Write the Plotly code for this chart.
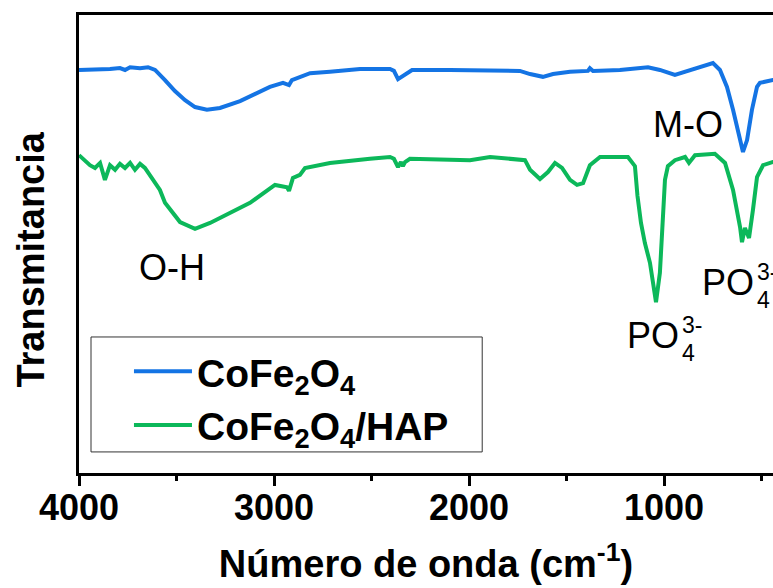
import plotly.graph_objects as go

# ---- data (wavenumber in cm^-1, transmittance in arbitrary units) ----
wn_cofe = [4000, 3918, 3841, 3790, 3764, 3738, 3687, 3646, 3610, 3559, 3508, 3456,
           3405, 3344, 3277, 3174, 3072, 3021, 2954, 2933, 2923, 2908, 2867, 2815,
           2713, 2559, 2405, 2385, 2364, 2339, 2292, 2098, 1892, 1739, 1687, 1621,
           1569, 1482, 1390, 1380, 1364, 1226, 1082, 1021, 944, 867, 790, 749,
           713, 677, 646, 610, 595, 574, 549, 523, 508, 441, 400]
t_cofe = [88.0, 88.0, 88.2, 88.4, 88.0, 88.6, 88.4, 88.6, 88.0, 85.8, 83.4, 81.4,
          79.9, 79.3, 79.7, 81.2, 83.2, 84.3, 85.2, 85.0, 84.7, 85.8, 86.5, 87.3,
          87.6, 88.2, 88.2, 87.8, 86.0, 86.7, 88.0, 88.0, 88.0, 87.8, 87.1, 86.5,
          87.1, 87.6, 87.8, 88.4, 87.8, 88.0, 88.6, 88.0, 86.9, 88.0, 88.9, 89.5,
          88.0, 84.3, 79.3, 72.7, 70.1, 72.7, 79.3, 84.3, 85.2, 85.8, 85.9]

wn_hap = [4000, 3969, 3944, 3918, 3892, 3867, 3841, 3815, 3790, 3764, 3738, 3713,
          3687, 3662, 3636, 3585, 3559, 3482, 3405, 3328, 3123, 2995, 2933, 2923,
          2903, 2867, 2841, 2713, 2508, 2405, 2385, 2364, 2349, 2339, 2328, 2303,
          1995, 1892, 1713, 1687, 1636, 1595, 1559, 1523, 1482, 1446, 1415, 1380,
          1328, 1185, 1149, 1136, 1118, 1098, 1072, 1041, 1021, 1005, 995, 980,
          944, 892, 872, 841, 739, 687, 646, 610, 600, 585, 564, 544, 523, 492, 441, 400]
t_hap = [69.4, 68.3, 67.2, 66.6, 67.7, 64.0, 67.2, 66.2, 67.5, 66.6, 67.7, 66.2,
         67.5, 66.6, 65.1, 61.8, 59.0, 54.8, 53.3, 54.6, 59.0, 62.9, 62.4, 61.6,
         64.4, 65.1, 66.6, 67.7, 68.6, 69.0, 68.6, 66.8, 67.9, 67.0, 67.9, 68.6,
         68.3, 69.0, 68.3, 66.2, 64.2, 65.7, 67.7, 66.6, 64.0, 62.9, 63.3, 67.2,
         69.0, 69.0, 67.0, 60.5, 54.6, 50.2, 45.9, 37.3, 43.7, 56.8, 64.0, 67.0,
         68.3, 69.0, 67.7, 69.4, 69.7, 67.7, 61.8, 53.7, 50.4, 53.5, 51.3, 57.4,
         64.6, 67.2, 67.9, 68.1]

series_names = ["CoFe<sub>2</sub>O<sub>4</sub>", "CoFe<sub>2</sub>O<sub>4</sub>/HAP"]
series_colors = ["#1474E4", "#0CB85A"]

x_tick_vals = [4000, 3000, 2000, 1000]
x_tick_text = ["4000", "3000", "2000", "1000"]

FONT = "Liberation Sans, Arial, sans-serif"

fig = go.Figure()
fig.add_trace(go.Scatter(x=wn_cofe, y=t_cofe, mode="lines", name=series_names[0],
                         line=dict(color=series_colors[0], width=4)))
fig.add_trace(go.Scatter(x=wn_hap, y=t_hap, mode="lines", name=series_names[1],
                         line=dict(color=series_colors[1], width=4)))

ann_font = dict(family=FONT, size=36, color="black")
small_font = dict(family=FONT, size=23, color="black")
annotations = [
    dict(text="O-H", x=0.134, y=0.448, font=ann_font, xanchor="center", yanchor="middle"),
    dict(text="M-O", x=0.8775, y=0.762, font=ann_font, xanchor="center", yanchor="middle"),
    dict(text="PO", x=0.787, y=0.301, font=ann_font, xanchor="left", yanchor="middle"),
    dict(text="3-", x=0.866, y=0.323, font=small_font, xanchor="left", yanchor="middle"),
    dict(text="4", x=0.866, y=0.262, font=small_font, xanchor="left", yanchor="middle"),
    dict(text="PO", x=0.895, y=0.417, font=ann_font, xanchor="left", yanchor="middle"),
    dict(text="3-", x=0.974, y=0.438, font=small_font, xanchor="left", yanchor="middle"),
    dict(text="4", x=0.974, y=0.378, font=small_font, xanchor="left", yanchor="middle"),
]
for a in annotations:
    a.update(xref="paper", yref="paper", showarrow=False)

# legend frame (paper coordinates)
fig.add_shape(type="rect", xref="paper", yref="paper",
              x0=0.0173, x1=0.581, y0=0.046, y1=0.297,
              line=dict(color="#333333", width=1), fillcolor="white", layer="above")

fig.update_layout(
    width=773, height=588,
    margin=dict(l=79, r=0, t=15, b=115, autoexpand=False),
    paper_bgcolor="white", plot_bgcolor="white",
    font=dict(family=FONT, color="black"),
    annotations=annotations,
    showlegend=True,
    legend=dict(x=0.072, y=0.2915, xanchor="left", yanchor="top",
                borderwidth=0, bgcolor="rgba(0,0,0,0)",
                font=dict(family=FONT, size=39, color="black", weight="bold"),
                itemwidth=58, tracegroupgap=0),
    xaxis=dict(range=[4000, 441], showgrid=False, zeroline=False, automargin=False,
               showline=True, linecolor="black", linewidth=3, mirror=True,
               ticks="outside", ticklen=10, tickwidth=3, tickcolor="black",
               tickvals=x_tick_vals, ticktext=x_tick_text, ticklabelstandoff=-9,
               tickfont=dict(family=FONT, size=36, color="black", weight="bold"),
               minor=dict(dtick=500, tick0=0, ticks="outside", ticklen=5, tickwidth=3,
                          tickcolor="black", showgrid=False),
               title=dict(text="Número de onda (cm<sup>-1</sup>)", standoff=24,
                          font=dict(family=FONT, size=38, color="black", weight="bold"))),
    yaxis=dict(range=[0, 100], showgrid=False, zeroline=False, automargin=False,
               showline=True, linecolor="black", linewidth=3, mirror=False,
               ticks="", showticklabels=False,
               title=dict(text="Transmitancia&nbsp;&nbsp;&nbsp;", standoff=20,
                          font=dict(family=FONT, size=38, color="black", weight="bold"))),
)

fig.write_html("out.html", config={"displayModeBar": False},
               post_script="document.body.style.margin='0';")
